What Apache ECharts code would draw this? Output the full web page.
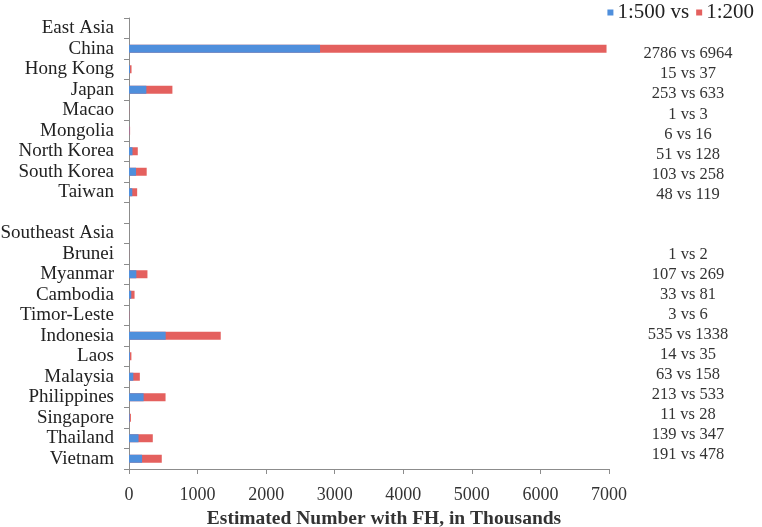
<!DOCTYPE html>
<html>
<head>
<meta charset="utf-8">
<script src="https://cdn.jsdelivr.net/npm/echarts@6/dist/echarts.min.js"></script>
<style>html,body{margin:0;padding:0;background:#fff}#c{width:762px;height:527px}</style>
</head>
<body>
<div id="c"></div>
<script>
const categories = ['East Asia','China','Hong Kong','Japan','Macao','Mongolia','North Korea','South Korea','Taiwan','','Southeast Asia','Brunei','Myanmar','Cambodia','Timor-Leste','Indonesia','Laos','Malaysia','Philippines','Singapore','Thailand','Vietnam'];
const ratio500 = [null,2786,15,253,1,6,51,103,48,null,null,1,107,33,3,535,14,63,213,11,139,191];
const ratio200 = [null,6964,37,633,3,16,128,258,119,null,null,2,269,81,6,1338,35,158,533,28,347,478];
const xTicks = [0,1000,2000,3000,4000,5000,6000,7000];
const seriesNames = ['1:500 vs','1:200'];

const rightLabels = categories.map((c,i)=> ratio500[i]==null ? '' : ratio500[i] + ' vs ' + ratio200[i]);
const serif = '"Liberation Serif","DejaVu Serif",serif';
const axisGray = '#8c8c8c';

const chart = echarts.init(document.getElementById('c'));
chart.setOption({
  animation:false,
  legend:{
    data:[seriesNames[0],seriesNames[1]],
    top:-3, right:3,
    icon:'rect', itemWidth:6, itemHeight:6, itemGap:7,
    textStyle:{fontFamily:serif,fontSize:21,color:'#222',padding:[0,0,0,-1]}
  },
  grid:[
    {left:129,right:153,top:18,bottom:58,containLabel:false,outerBoundsMode:'none'},
    {left:129,right:153,top:24,bottom:62,containLabel:false,outerBoundsMode:'none'}
  ],
  xAxis:[
    {type:'value',gridIndex:0,min:xTicks[0],max:xTicks[xTicks.length-1],interval:1000,
     axisLine:{show:true,lineStyle:{color:axisGray}},
     axisTick:{show:true,length:5,lineStyle:{color:axisGray}},
     splitLine:{show:false},
     axisLabel:{fontFamily:serif,fontSize:18,color:'#333',margin:17,formatter:v=>String(v)},
     name:'Estimated Number with FH, in Thousands',nameLocation:'middle',nameGap:39,
     nameTextStyle:{fontFamily:serif,fontSize:19.5,fontWeight:'bold',color:'#333',padding:[0,0,0,30]}},
    {type:'value',gridIndex:1,show:false,min:0,max:7000}
  ],
  yAxis:[
    {type:'category',gridIndex:0,data:categories,inverse:true,
     axisLine:{show:true,lineStyle:{color:axisGray}},
     axisTick:{show:true,length:5,lineStyle:{color:axisGray}},
     axisLabel:{fontFamily:serif,fontSize:19,color:'#222',margin:15,interval:0}},
    {type:'category',gridIndex:1,data:rightLabels,inverse:true,position:'right',
     axisLine:{show:false},axisTick:{show:false},
     axisLabel:{fontFamily:serif,fontSize:16.5,color:'#333',margin:79,align:'center',interval:0}}
  ],
  series:[
    {name:seriesNames[1],type:'bar',xAxisIndex:0,yAxisIndex:0,data:ratio200,barWidth:8,barGap:'-100%',
     itemStyle:{color:'#e4605e'}},
    {name:seriesNames[0],type:'bar',xAxisIndex:0,yAxisIndex:0,data:ratio500,barWidth:8,barGap:'-100%',
     itemStyle:{color:'#4f8fdc'}}
  ]
});
</script>
</body>
</html>
